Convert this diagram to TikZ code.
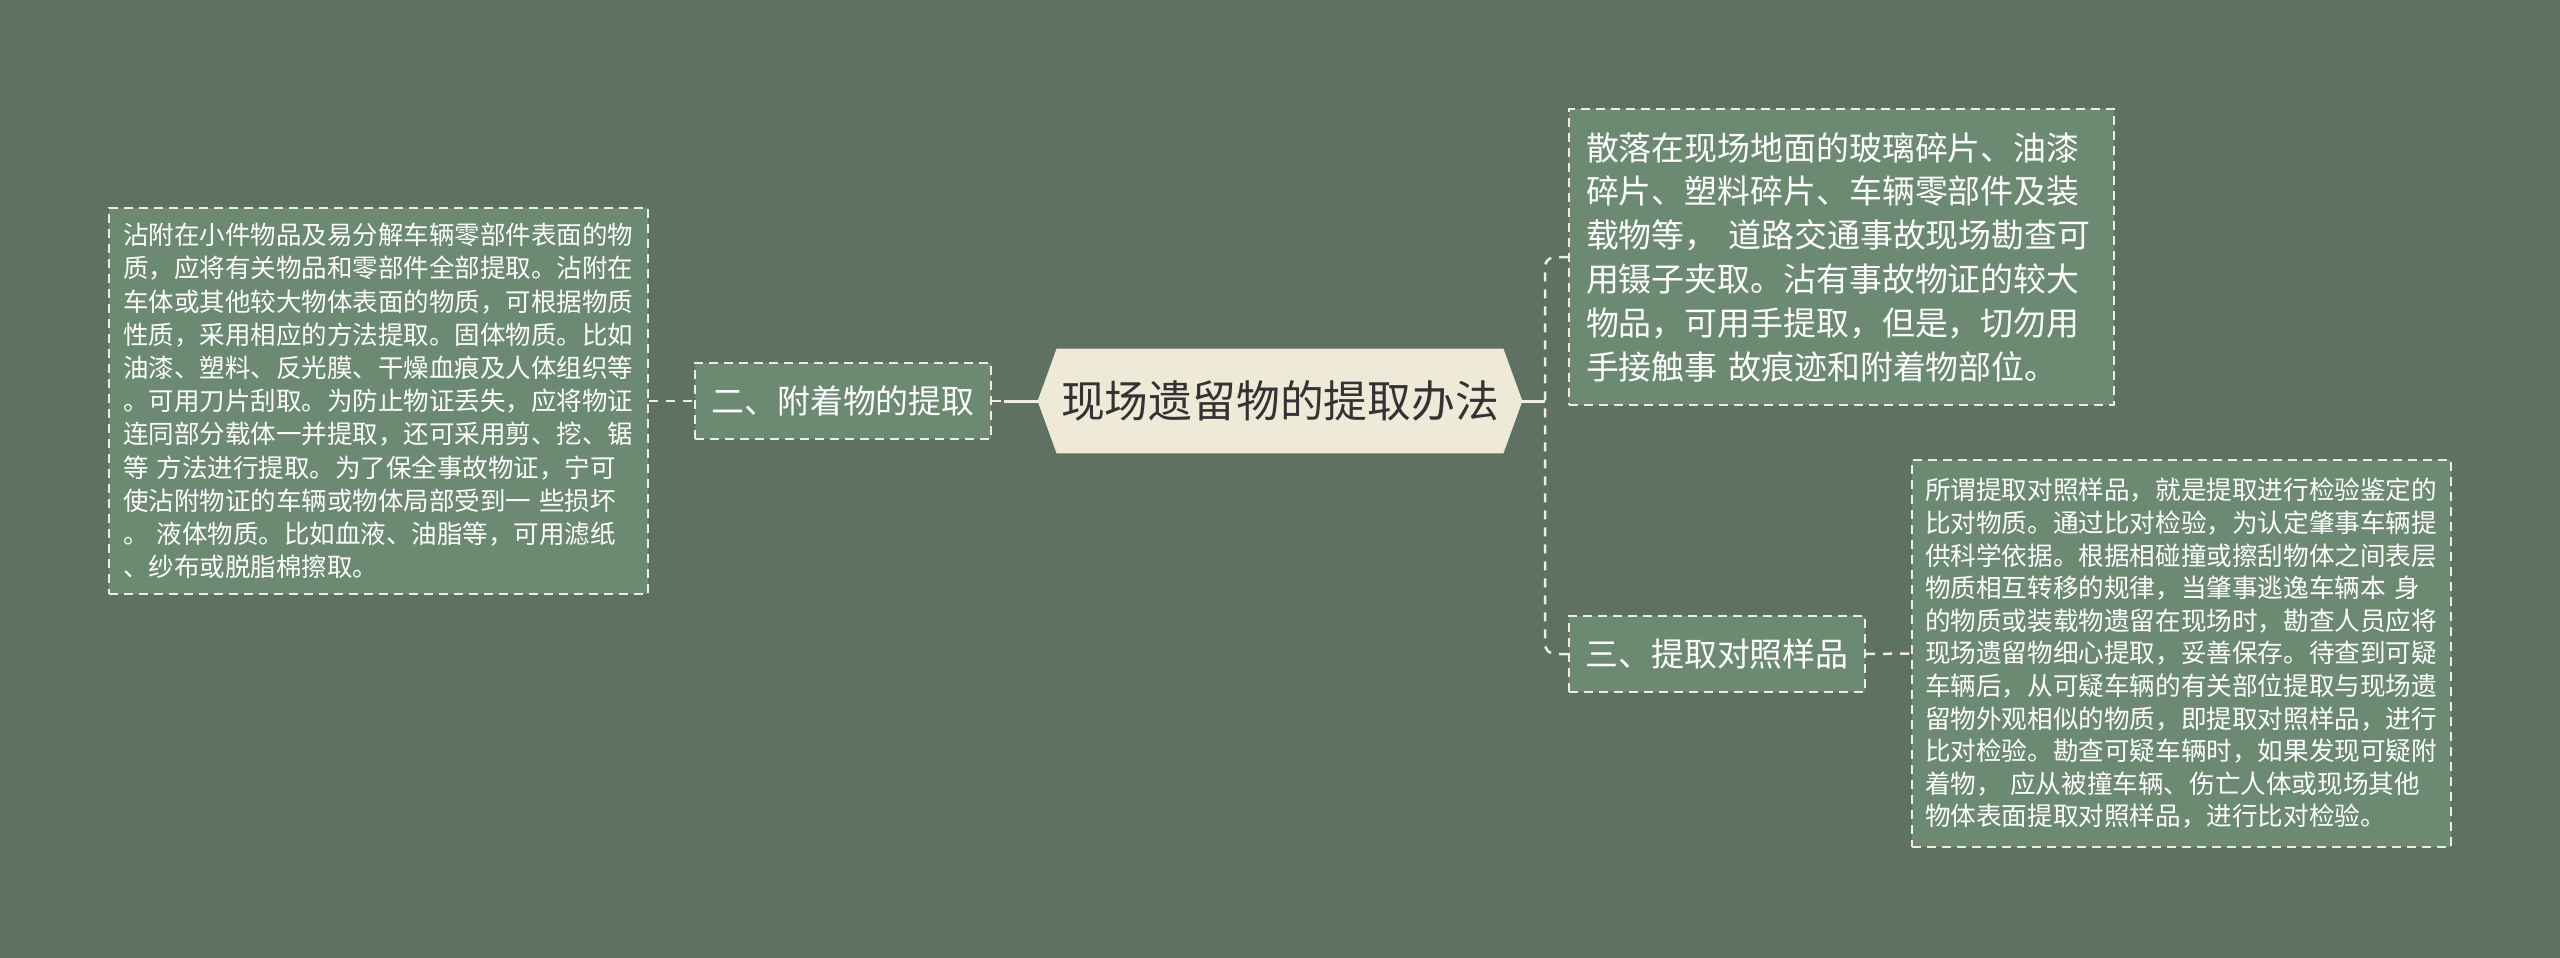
\documentclass[tikz,border=0pt]{standalone}
\usepackage{fontspec}
\setmainfont{Noto Sans CJK SC}
\usetikzlibrary{backgrounds}
\definecolor{bg}{RGB}{95,113,97}
\definecolor{boxfill}{RGB}{108,138,114}
\definecolor{cream}{RGB}{239,233,216}
\definecolor{linec}{RGB}{240,236,222}
\definecolor{darktext}{RGB}{51,51,51}
\begin{document}
\begin{tikzpicture}[x=0.5pt,y=-0.5pt,
  dbox/.style={draw=linec, fill=boxfill, line width=1pt, dash pattern=on 4.5pt off 3pt, text=white, inner ysep=0pt},
  smalltext/.style={font=\fontsize{12.75pt}{16.6pt}\selectfont, align=left},
  midtext/.style={font=\fontsize{16.45pt}{21.9pt}\selectfont},
  catbox/.style={dbox, midtext, inner sep=0pt, minimum width=148pt, minimum height=38pt},
  dconn/.style={draw=linec, line width=1.25pt, dash pattern=on 4.5pt off 4pt},
  sconn/.style={draw=linec, line width=1.5pt}
]
\useasboundingbox (0,0) rectangle (2560,958);
% nodes
\node[inner sep=0pt, minimum width=242pt, minimum height=52pt, text=darktext,
      font=\fontsize{21.9pt}{26pt}\selectfont] (c) at (1280,401) {现场遗留物的提取办法};
\begin{scope}[on background layer]
  \fill[bg] (0,0) rectangle (2560,958);
  \fill[cream] (c.west) -- ([xshift=9.5pt]c.north west) -- ([xshift=-9.5pt]c.north east)
    -- (c.east) -- ([xshift=-9.5pt]c.south east) -- ([xshift=9.5pt]c.south west) -- cycle;
\end{scope}

\coordinate (j) at (1545,401);

\node[dbox, smalltext, text width=255.5pt, inner xsep=7pt, minimum height=193pt] (lb) at (378.5,401) {%
沾附在小件物品及易分解车辆零部件表面的物\\
质，应将有关物品和零部件全部提取。沾附在\\
车体或其他较大物体表面的物质，可根据物质\\
性质，采用相应的方法提取。固体物质。比如\\
油漆、塑料、反光膜、干燥血痕及人体组织等\\
。可用刀片刮取。为防止物证丢失，应将物证\\
连同部分载体一并提取，还可采用剪、挖、锯\\
等 方法进行提取。为了保全事故物证，宁可\\
使沾附物证的车辆或物体局部受到一 些损坏\\
。 液体物质。比如血液、油脂等，可用滤纸\\
、纱布或脱脂棉擦取。};

\node[catbox] (b2) at (843,401) {二、附着物的提取};

\node[dbox, midtext, align=left, text width=255.5pt, inner xsep=8.5pt, minimum height=148pt] (rt) at (1841.5,257) {%
散落在现场地面的玻璃碎片、油漆\\
碎片、塑料碎片、车辆零部件及装\\
载物等， 道路交通事故现场勘查可\\
用镊子夹取。沾有事故物证的较大\\
物品，可用手提取，但是，切勿用\\
手接触事 故痕迹和附着物部位。};

\node[catbox] (b3) at (1717,654) {三、提取对照样品};

\node[dbox, font=\fontsize{12.8pt}{16.3pt}\selectfont, align=left, text width=256.5pt, inner xsep=6.5pt, minimum height=193.5pt] (rb) at (2181.5,653.5) {%
所谓提取对照样品，就是提取进行检验鉴定的\\
比对物质。通过比对检验，为认定肇事车辆提\\
供科学依据。根据相碰撞或擦刮物体之间表层\\
物质相互转移的规律，当肇事逃逸车辆本 身\\
的物质或装载物遗留在现场时，勘查人员应将\\
现场遗留物细心提取，妥善保存。待查到可疑\\
车辆后，从可疑车辆的有关部位提取与现场遗\\
留物外观相似的物质，即提取对照样品，进行\\
比对检验。勘查可疑车辆时，如果发现可疑附\\
着物， 应从被撞车辆、伤亡人体或现场其他\\
物体表面提取对照样品，进行比对检验。};

% connectors
\draw[dconn] (lb.east) -- (b2.west);
\draw[dconn] (b2.east) -- (c.west);
\draw[sconn, shorten >=6pt] (c.west) -- (b2.east);
\draw[dconn, rounded corners=5pt] (rt.west) -| (j) |- (b3.west);
\draw[sconn] (c.east) -- (j);
\draw[dconn] (b3.east) -- (rb.west);
\end{tikzpicture}
\end{document}
